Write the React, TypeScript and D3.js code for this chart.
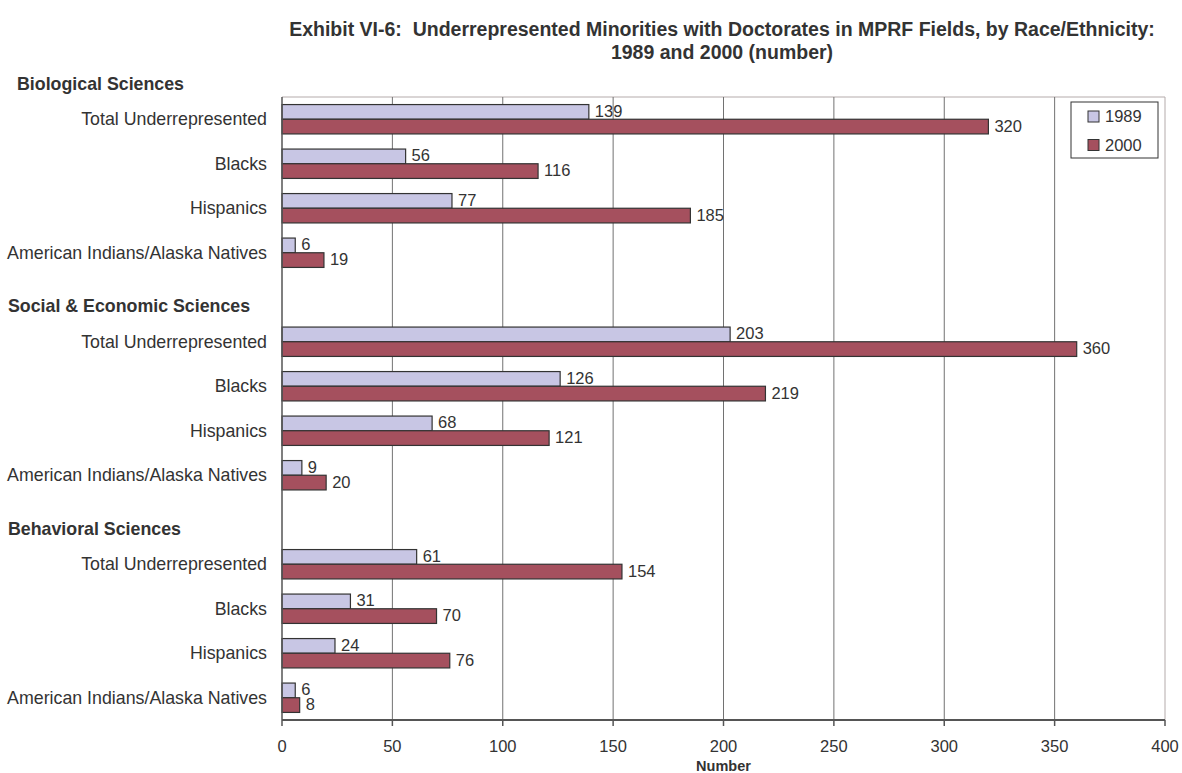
import React from "react";
import * as d3 from "d3";

const groups = ["Biological Sciences", "Social & Economic Sciences", "Behavioral Sciences"];
const categories = ["Total Underrepresented", "Blacks", "Hispanics", "American Indians/Alaska Natives"];
const values1989 = [
  [139, 56, 77, 6],
  [203, 126, 68, 9],
  [61, 31, 24, 6],
];
const values2000 = [
  [320, 116, 185, 19],
  [360, 219, 121, 20],
  [154, 70, 76, 8],
];
const seriesNames = ["1989", "2000"];
const xTicks = [0, 50, 100, 150, 200, 250, 300, 350, 400];
const titleLines = [
  "Exhibit VI-6:  Underrepresented Minorities with Doctorates in MPRF Fields, by Race/Ethnicity:",
  "1989 and 2000 (number)",
];
const axisTitle = "Number";

const W = 1182;
const H = 773;
const FONT = "'Liberation Sans', Arial, Helvetica, sans-serif";
const TEXT = "#333333";
const COLORS = ["#C8C6E4", "#A5505E"];
const headerX = [17, 8, 8];

export default function App() {
  const left = 282;
  const right = 1165;
  const top = 97;
  const bottom = 720;

  const x = d3.scaleLinear().domain([0, 400]).range([left, right]);
  const nRows = groups.length * 5 - 1;
  const y = d3
    .scaleBand<number>()
    .domain(d3.range(nRows))
    .range([top, bottom])
    .paddingInner(0.34)
    .paddingOuter(0.17);
  const step = y.step();
  const bw = y.bandwidth();
  const half = bw / 2;

  const rows: { g: number; c: number; idx: number }[] = [];
  groups.forEach((_, g) => categories.forEach((_, c) => rows.push({ g, c, idx: g * 5 + c })));

  const rowCenter = (idx: number) => (y(idx) as number) + bw / 2;
  const headerCenter = (g: number) => top + (g * 5 - 0.5) * step;

  return (
    <svg width={W} height={H} style={{ position: "absolute", left: 0, top: 0, background: "#fff" }} fontFamily={FONT}>
      <rect x={0} y={0} width={W} height={H} fill="#fff" />
      {/* title */}
      {titleLines.map((t, i) => (
        <text
          key={i}
          x={722}
          y={36 + i * 22.5}
          textAnchor="middle"
          fontWeight="bold"
          fontSize={19.5}
          fill={TEXT}
          style={{ whiteSpace: "pre" }}
        >
          {t}
        </text>
      ))}
      {/* plot border top/right */}
      <line x1={left} x2={right} y1={top} y2={top} stroke="#B4ABAB" strokeWidth={1} />
      <line x1={right} x2={right} y1={top} y2={bottom} stroke="#B4ABAB" strokeWidth={1} />
      {/* gridlines */}
      {xTicks.slice(1, -1).map((t) => (
        <line key={t} x1={x(t)} x2={x(t)} y1={top} y2={bottom} stroke="#727272" strokeWidth={1} />
      ))}
      {/* bars */}
      {rows.map(({ g, c, idx }) => {
        const y0 = y(idx) as number;
        const v1 = values1989[g][c];
        const v2 = values2000[g][c];
        return (
          <g key={idx}>
            <rect x={x(0)} y={y0} width={x(v1) - x(0)} height={half} fill={COLORS[0]} stroke="#333" strokeWidth={1.2} />
            <rect x={x(0)} y={y0 + half} width={x(v2) - x(0)} height={half} fill={COLORS[1]} stroke="#333" strokeWidth={1.2} />
            <text x={x(v1) + 6} y={y0 + half / 2 + 5} fontSize={16.5} fill={TEXT}>
              {v1}
            </text>
            <text x={x(v2) + 6} y={y0 + half * 1.5 + 5} fontSize={16.5} fill={TEXT}>
              {v2}
            </text>
          </g>
        );
      })}
      {/* axes */}
      <line x1={left} x2={left} y1={top} y2={bottom} stroke="#555" strokeWidth={1.5} />
      <line x1={left} x2={right} y1={bottom} y2={bottom} stroke="#555" strokeWidth={2} />
      {xTicks.map((t) => (
        <g key={t}>
          <line x1={x(t)} x2={x(t)} y1={bottom} y2={bottom + 6} stroke="#555" strokeWidth={1.5} />
          <text x={x(t)} y={752} textAnchor="middle" fontSize={16.5} fill={TEXT}>
            {t}
          </text>
        </g>
      ))}
      <text x={(left + right) / 2} y={771} textAnchor="middle" fontSize={14.5} fontWeight="bold" fill={TEXT}>
        {axisTitle}
      </text>
      {/* category labels */}
      {rows.map(({ g, c, idx }) => (
        <text key={idx} x={267} y={rowCenter(idx) + 6} textAnchor="end" fontSize={17.8} fill={TEXT}>
          {categories[c]}
        </text>
      ))}
      {groups.map((gname, g) => (
        <text key={gname} x={headerX[g]} y={headerCenter(g) + 14.75} fontSize={17.8} fontWeight="bold" fill={TEXT}>
          {gname}
        </text>
      ))}
      {/* legend */}
      <rect x={1071} y={102} width={87} height={56} fill="#fff" stroke="#333" strokeWidth={1} />
      {seriesNames.map((s, i) => (
        <g key={s}>
          <rect x={1088} y={111 + i * 28.5} width={11} height={11} fill={COLORS[i]} stroke="#333" strokeWidth={1} />
          <text x={1105} y={122 + i * 28.5} fontSize={16.5} fill={TEXT}>
            {s}
          </text>
        </g>
      ))}
    </svg>
  );
}
